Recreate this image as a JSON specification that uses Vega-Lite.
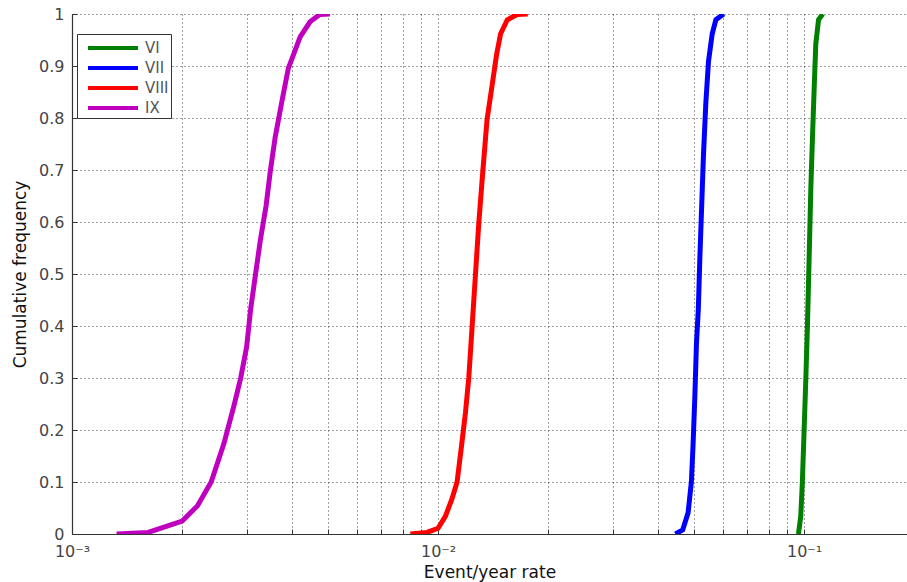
{
  "$schema": "https://vega.github.io/schema/vega-lite/v6.json",
  "width": 835,
  "height": 520,
  "autosize": {"type": "none"},
  "padding": {"left": 72, "top": 14, "right": 0, "bottom": 48},
  "background": "white",
  "config": {
    "view": {"stroke": null},
    "font": "DejaVu Sans",
    "axis": {
      "grid": true,
      "gridColor": "#000000",
      "gridDash": [1, 3],
      "gridOpacity": 0.75,
      "gridWidth": 1,
      "domainColor": "#333333",
      "domainWidth": 1.2,
      "tickColor": "#333333",
      "tickSize": -5,
      "labelFont": "DejaVu Sans",
      "labelFontSize": 16,
      "labelColor": "#444444",
      "titleFont": "DejaVu Sans",
      "titleFontSize": 17,
      "titleFontWeight": "normal",
      "titleColor": "#111111"
    }
  },
  "data": {
    "values": [
      {"cls": "IX", "rate": 0.001324, "freq": 0},
      {"cls": "IX", "rate": 0.001614, "freq": 0.003},
      {"cls": "IX", "rate": 0.0020, "freq": 0.025},
      {"cls": "IX", "rate": 0.0022, "freq": 0.054},
      {"cls": "IX", "rate": 0.0024, "freq": 0.1},
      {"cls": "IX", "rate": 0.0026, "freq": 0.174},
      {"cls": "IX", "rate": 0.00277, "freq": 0.247},
      {"cls": "IX", "rate": 0.00289, "freq": 0.3},
      {"cls": "IX", "rate": 0.0030, "freq": 0.36},
      {"cls": "IX", "rate": 0.003076, "freq": 0.432},
      {"cls": "IX", "rate": 0.00317, "freq": 0.498},
      {"cls": "IX", "rate": 0.00327, "freq": 0.565},
      {"cls": "IX", "rate": 0.00339, "freq": 0.631},
      {"cls": "IX", "rate": 0.00348, "freq": 0.697},
      {"cls": "IX", "rate": 0.00359, "freq": 0.763},
      {"cls": "IX", "rate": 0.00374, "freq": 0.83},
      {"cls": "IX", "rate": 0.0039, "freq": 0.896},
      {"cls": "IX", "rate": 0.0040, "freq": 0.916},
      {"cls": "IX", "rate": 0.0042, "freq": 0.956},
      {"cls": "IX", "rate": 0.00447, "freq": 0.985},
      {"cls": "IX", "rate": 0.00475, "freq": 0.999},
      {"cls": "IX", "rate": 0.00506, "freq": 1},
      {"cls": "VIII", "rate": 0.0084, "freq": 0},
      {"cls": "VIII", "rate": 0.00933, "freq": 0.003},
      {"cls": "VIII", "rate": 0.0100, "freq": 0.011},
      {"cls": "VIII", "rate": 0.01047, "freq": 0.034},
      {"cls": "VIII", "rate": 0.01092, "freq": 0.068},
      {"cls": "VIII", "rate": 0.01127, "freq": 0.1},
      {"cls": "VIII", "rate": 0.01158, "freq": 0.167},
      {"cls": "VIII", "rate": 0.01188, "freq": 0.233},
      {"cls": "VIII", "rate": 0.01213, "freq": 0.3},
      {"cls": "VIII", "rate": 0.01239, "freq": 0.399},
      {"cls": "VIII", "rate": 0.01265, "freq": 0.498},
      {"cls": "VIII", "rate": 0.01292, "freq": 0.598},
      {"cls": "VIII", "rate": 0.01325, "freq": 0.697},
      {"cls": "VIII", "rate": 0.01361, "freq": 0.797},
      {"cls": "VIII", "rate": 0.01405, "freq": 0.863},
      {"cls": "VIII", "rate": 0.01445, "freq": 0.922},
      {"cls": "VIII", "rate": 0.01482, "freq": 0.962},
      {"cls": "VIII", "rate": 0.01546, "freq": 0.989},
      {"cls": "VIII", "rate": 0.01645, "freq": 0.999},
      {"cls": "VIII", "rate": 0.01758, "freq": 1},
      {"cls": "VII", "rate": 0.0445, "freq": 0},
      {"cls": "VII", "rate": 0.0466, "freq": 0.008},
      {"cls": "VII", "rate": 0.0482, "freq": 0.041},
      {"cls": "VII", "rate": 0.0492, "freq": 0.1},
      {"cls": "VII", "rate": 0.0497, "freq": 0.167},
      {"cls": "VII", "rate": 0.0503, "freq": 0.266},
      {"cls": "VII", "rate": 0.0508, "freq": 0.366},
      {"cls": "VII", "rate": 0.0514, "freq": 0.432},
      {"cls": "VII", "rate": 0.0519, "freq": 0.531},
      {"cls": "VII", "rate": 0.0525, "freq": 0.631},
      {"cls": "VII", "rate": 0.0531, "freq": 0.73},
      {"cls": "VII", "rate": 0.0539, "freq": 0.83},
      {"cls": "VII", "rate": 0.0548, "freq": 0.909},
      {"cls": "VII", "rate": 0.0561, "freq": 0.962},
      {"cls": "VII", "rate": 0.0574, "freq": 0.989},
      {"cls": "VII", "rate": 0.0603, "freq": 1},
      {"cls": "VI", "rate": 0.0965, "freq": 0},
      {"cls": "VI", "rate": 0.0979, "freq": 0.034},
      {"cls": "VI", "rate": 0.0989, "freq": 0.1},
      {"cls": "VI", "rate": 0.1000, "freq": 0.2},
      {"cls": "VI", "rate": 0.1011, "freq": 0.3},
      {"cls": "VI", "rate": 0.1021, "freq": 0.4},
      {"cls": "VI", "rate": 0.1032, "freq": 0.531},
      {"cls": "VI", "rate": 0.1043, "freq": 0.664},
      {"cls": "VI", "rate": 0.1054, "freq": 0.763},
      {"cls": "VI", "rate": 0.1066, "freq": 0.863},
      {"cls": "VI", "rate": 0.1076, "freq": 0.942},
      {"cls": "VI", "rate": 0.1095, "freq": 0.989},
      {"cls": "VI", "rate": 0.1124, "freq": 1}
    ]
  },
  "mark": {"type": "line", "strokeWidth": 5, "clip": true},
  "encoding": {
    "x": {
      "field": "rate",
      "type": "quantitative",
      "scale": {"type": "log", "domain": [0.001, 0.191], "nice": false},
      "axis": {
        "title": "Event/year rate",
        "values": [0.001, 0.002, 0.003, 0.004, 0.005, 0.006, 0.007, 0.008, 0.009, 0.01, 0.02, 0.03, 0.04, 0.05, 0.06, 0.07, 0.08, 0.09, 0.1],
        "labelExpr": "datum.value == 0.001 ? '10⁻³' : datum.value == 0.01 ? '10⁻²' : datum.value == 0.1 ? '10⁻¹' : ''",
        "labelPadding": 14,
        "labelFlush": false,
        "labelOverlap": false,
        "titlePadding": 5
      }
    },
    "y": {
      "field": "freq",
      "type": "quantitative",
      "scale": {"domain": [0, 1], "nice": false},
      "axis": {
        "title": "Cumulative frequency",
        "values": [0, 0.1, 0.2, 0.3, 0.4, 0.5, 0.6, 0.7, 0.8, 0.9, 1],
        "format": "~g",
        "labelPadding": 13,
        "titlePadding": 9
      }
    },
    "color": {
      "field": "cls",
      "type": "nominal",
      "scale": {"domain": ["VI", "VII", "VIII", "IX"], "range": ["#008000", "#0000ff", "#ff0000", "#bf00bf"]},
      "legend": {
        "title": null,
        "orient": "none",
        "legendX": 5,
        "legendY": 20,
        "strokeColor": "#333333",
        "fillColor": "white",
        "padding": 2,
        "symbolType": "M-2.5,0H2.5",
        "symbolSize": 400,
        "symbolStrokeWidth": 4,
        "symbolOffset": 22,
        "labelFont": "DejaVu Sans",
        "labelFontSize": 15,
        "labelColor": "#555555",
        "rowPadding": 0,
        "labelOffset": 20
      }
    }
  }
}
